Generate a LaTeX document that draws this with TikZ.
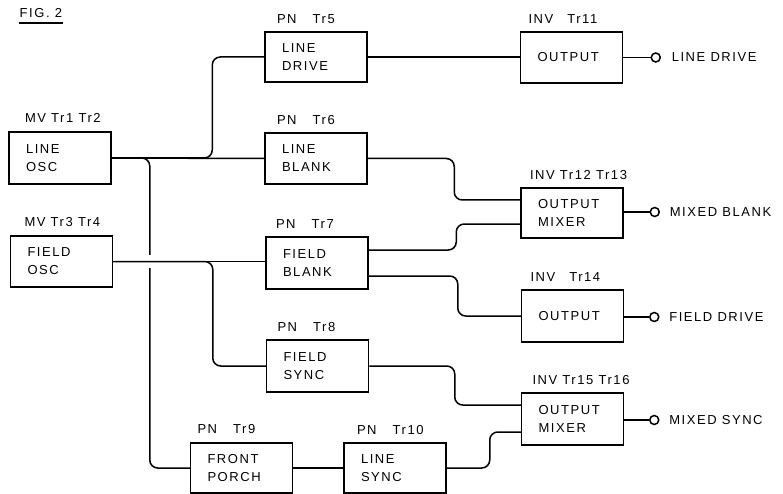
\documentclass[tikz,border=0pt]{standalone}
\usepackage{fontspec}
\setmainfont{Liberation Sans}[LetterSpace=12]
\usetikzlibrary{calc}
\newcommand\pntr[1]{PN\hspace{16pt}Tr#1}
\begin{document}
\begin{tikzpicture}[x=1pt,y=-1pt, line width=1.5pt,
  blk/.style={draw, line width=1.5pt, minimum width=102pt, minimum height=51pt,
    text width=68pt, inner xsep=17pt, inner ysep=0pt, align=left,
    font=\fontsize{13}{18}\selectfont},
  lab/.style={anchor=base west, inner sep=0pt, font=\fontsize{13}{15}\selectfont},
  wire/.style={rounded corners=8pt},
  pin/.style={circle, draw, minimum size=9pt, inner sep=0pt, line width=1.5pt},
  outl/.style={anchor=west, inner sep=0pt, font=\fontsize{13}{15}\selectfont}
]
\useasboundingbox (0,0) rectangle (783,494);

% title
\node[anchor=base west, inner sep=0pt, font=\fontsize{13}{15}\selectfont] (fig) at (19,18) {FIG. 2};
\draw[line width=1.6pt] ([yshift=-4pt]fig.south west) -- ([yshift=-4pt]fig.south east);

% blocks
\node[blk, minimum height=52pt] (LO) at (60,158) {LINE\\OSC};
\node[blk] (FO) at (61.5,261.5) {FIELD\\OSC};
\node[blk, minimum height=50pt] (LD) at (316,57) {LINE\\DRIVE};
\node[blk] (LB) at (316,158.5) {LINE\\BLANK};
\node[blk, minimum height=52pt] (FB) at (317,263) {FIELD\\BLANK};
\node[blk, minimum height=52pt] (FS) at (317.5,366) {FIELD\\SYNC};
\node[blk, minimum height=50pt] (FP) at (241.5,468) {FRONT\\PORCH};
\node[blk, minimum height=50pt] (LS) at (395,468) {LINE\\SYNC};
\node[blk] (O11) at (571.5,57.5) {OUTPUT};
\node[blk, minimum height=50pt] (M1) at (572,213) {OUTPUT\\MIXER};
\node[blk, minimum height=52pt] (O14) at (572.5,316) {OUTPUT};
\node[blk, minimum height=52pt] (M2) at (572.5,419) {OUTPUT\\MIXER};

% labels above blocks
\node[lab] (lLO) at ($(LO.north west)+(16,-9)$) {MV Tr1 Tr2};
\node[lab] (lFO) at ($(FO.north west)+(14,-9)$) {MV Tr3 Tr4};
\node[lab] (lLD) at ($(LD.north west)+(12,-8)$) {\pntr{5}};
\node[lab] (lLB) at ($(LB.north west)+(12,-8)$) {\pntr{6}};
\node[lab] (lFB) at ($(FB.north west)+(10,-8)$) {\pntr{7}};
\node[lab] (lFS) at ($(FS.north west)+(11,-8)$) {\pntr{8}};
\node[lab] (lFP) at ($(FP.north west)+(7,-9)$) {\pntr{9}};
\node[lab] (lLS) at ($(LS.north west)+(13,-8)$) {\pntr{10}};
\node[lab] (lO11) at ($(O11.north west)+(8,-8)$) {INV\hspace{14pt}Tr11};
\node[lab] (lM1) at ($(M1.north west)+(9,-8)$) {INV Tr12 Tr13};
\node[lab] (lO14) at ($(O14.north west)+(9,-8)$) {INV\hspace{14pt}Tr14};
\node[lab] (lM2) at ($(M2.north west)+(11,-8)$) {INV Tr15 Tr16};

% wires from line oscillator
\draw (LO.east) -- (LB.west);
\draw[wire] (LO.east) -| ([xshift=-52pt]LD.west) -- (LD.west);
\draw[wire] (LO.east) -| ([xshift=-40pt]FP.west) -- (FP.west);

% gap where field line crosses
\coordinate (cross) at ([xshift=-40pt]FP.west |- FO.east);
\fill[white] ($(cross)+(-3,-7)$) rectangle ($(cross)+(3,6)$);

% wires from field oscillator
\draw (FO.east) -- (FO.east -| FB.west);
\draw[wire] (FO.east) -| ([xshift=-53pt]FS.west) -- (FS.west);

% middle column to outputs
\draw (LD.east) -- (LD.east -| O11.west);
\draw[wire] (LB.east) -| ($(M1.west)+(-66,-13)$) -- ($(M1.west)+(0,-13)$);
\draw[wire] ($(FB.east)+(0,-13)$) -| ($(M1.west)+(-64,11)$) -- ($(M1.west)+(0,11)$);
\draw[wire] ($(FB.east)+(0,13)$) -| ($(O14.west)+(-63,0)$) -- (O14.west);
\draw[wire] (FS.east) -| ($(M2.west)+(-66,-14)$) -- ($(M2.west)+(0,-14)$);
\draw (FP.east) -- (LS.west);
\draw[wire] (LS.east) -| ($(M2.west)+(-31,13)$) -- ($(M2.west)+(0,13)$);

% output terminals
\node[pin] (p1) at ($(O11.east)+(32.5,0)$) {};
\node[pin] (p2) at ($(M1.east)+(31,-1)$) {};
\node[pin] (p3) at ($(O14.east)+(30,1)$) {};
\node[pin] (p4) at ($(M2.east)+(30,1)$) {};
\draw (O11.east) -- (p1.west);
\draw (p2.west -| M1.east) -- (p2.west);
\draw (p3.west -| O14.east) -- (p3.west);
\draw (p4.west -| M2.east) -- (p4.west);
\node[outl] (t1) at ($(p1.east)+(10,0)$) {LINE DRIVE};
\node[outl] (t2) at ($(p2.east)+(9,0)$) {MIXED BLANK};
\node[outl] (t3) at ($(p3.east)+(9,0)$) {FIELD DRIVE};
\node[outl] (t4) at ($(p4.east)+(9,0)$) {MIXED SYNC};
\end{tikzpicture}
\end{document}
